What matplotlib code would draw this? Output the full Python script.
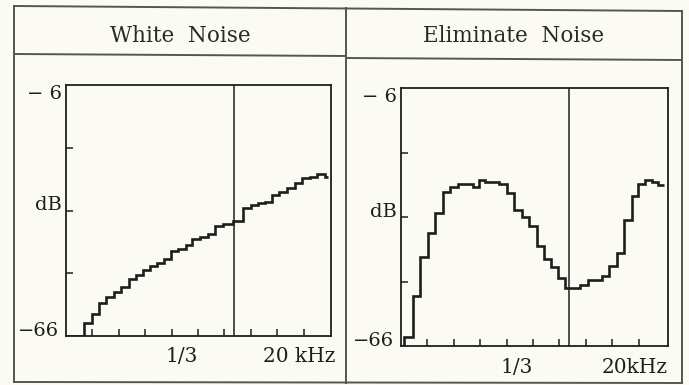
import matplotlib
matplotlib.use('Agg')
import matplotlib.pyplot as plt
from matplotlib.lines import Line2D

# band edges (in tick units along the frequency axis) and levels in dB
white_edges = [0, 0.68, 0.97, 1.25, 1.53, 1.82, 2.10, 2.37, 2.65, 2.92, 3.18,
               3.45, 3.71, 3.98, 4.26, 4.53, 4.79, 5.08, 5.36, 5.64, 5.93,
               6.33, 6.70, 7.01, 7.27, 7.54, 7.80, 8.07, 8.37, 8.67, 8.94,
               9.24, 9.51, 9.81, 9.92]
white_db = [-66.0, -62.9, -60.7, -58.2, -56.6, -55.4, -54.2, -52.4, -51.4,
            -50.2, -49.3, -48.6, -47.7, -45.6, -45.3, -44.2, -42.9, -42.4,
            -41.6, -39.7, -39.2, -38.4, -35.4, -34.7, -34.3, -33.9, -32.3,
            -31.6, -30.7, -29.5, -28.3, -27.9, -27.3, -27.9]

elim_edges = [0, 0.11, 0.45, 0.72, 1.02, 1.29, 1.59, 1.86, 2.16, 2.42, 2.73,
              2.95, 3.18, 3.45, 3.71, 4.02, 4.28, 4.58, 4.85, 5.15, 5.42,
              5.68, 5.95, 6.21, 6.44, 6.78, 7.08, 7.35, 7.61, 7.88, 8.18,
              8.45, 8.75, 8.98, 9.24, 9.51, 9.73, 9.96]
elim_db = [-66.0, -63.8, -54.4, -45.2, -39.7, -35.0, -30.2, -29.0, -28.3,
           -28.3, -29.1, -27.4, -27.9, -27.9, -28.3, -30.5, -34.4, -35.9,
           -38.1, -42.7, -45.8, -47.6, -50.2, -52.5, -52.4, -51.8, -50.7,
           -50.7, -49.7, -47.4, -44.4, -36.7, -31.1, -28.3, -27.4, -27.8,
           -28.6]

titles = ['White  Noise', 'Eliminate  Noise']
x_ticks = [1, 2, 3, 4, 5, 6, 7, 8, 9]
y_ticks = [-21, -36, -51]
third_oct = 6.38
x_labels = [[(4.4, '1/3'), (8.85, '20 kHz')],
            [(4.4, '1/3'), (8.85, '20kHz')]]

bg = '#fbfbf3'
ink = '#1e1e1e'
W, H = 689, 385

plt.rcParams['font.family'] = ['DejaVu Serif']

fig = plt.figure(figsize=(6.89, 3.85), dpi=100, facecolor=bg)


def fline(x0, y0, x1, y1, lw=1.4):
    fig.add_artist(Line2D([x0 / W, x1 / W], [1 - y0 / H, 1 - y1 / H],
                          transform=fig.transFigure, color='#555555', lw=lw))


# outer frame of the scanned figure
fline(14, 6, 682, 11)
fline(14, 382, 682, 383)
fline(14, 6, 14, 382)
fline(346, 8, 346, 383)
fline(682, 11, 682, 383)
fline(14, 54, 346, 56)
fline(346, 58, 682, 60)

panels = [
    (66, 85, 265, 251, white_edges, white_db, titles[0], 180, x_labels[0]),
    (401, 88, 267, 258, elim_edges, elim_db, titles[1], 514, x_labels[1]),
]

for left, top, w, h, edges, db, title, cx, xl in panels:
    ax = fig.add_axes([left / W, 1 - (top + h) / H, w / W, h / H])
    ax.set_facecolor('none')
    ax.set_xlim(0, w / 26.4)
    ax.set_ylim(-66, -6)
    for s in ax.spines.values():
        s.set_color(ink)
        s.set_linewidth(1.3)
    ax.set_xticks(x_ticks)
    ax.set_yticks(y_ticks)
    ax.set_xticklabels([])
    ax.set_yticklabels([])
    ax.tick_params(direction='in', length=5, width=1.1, color=ink,
                   top=False, right=False)

    ax.axvline(third_oct, color=ink, lw=1.1)
    ax.stairs(db, edges, baseline=None, color=ink, lw=1.9)

    yt = ax.get_yaxis_transform()
    ax.text(-0.015, -6, '\u2212 6', transform=yt, ha='right', va='top',
            fontsize=14, color=ink)
    ax.text(-0.015, -36, 'dB', transform=yt, ha='right', va='baseline',
            fontsize=14, color=ink)
    ax.text(-0.025, -66, '\u221266', transform=yt, ha='right', va='baseline',
            fontsize=14, color=ink)

    xt = ax.get_xaxis_transform()
    for xv, lab in xl:
        ax.text(xv, -0.105, lab, transform=xt, ha='center', va='baseline',
                fontsize=14.5, color=ink)

    fig.text(cx / W, 1 - 36 / H, title, ha='center', va='center',
             fontsize=15.5, color='#2a2a2a')

fig.savefig('out.png', dpi=100, facecolor=bg)
